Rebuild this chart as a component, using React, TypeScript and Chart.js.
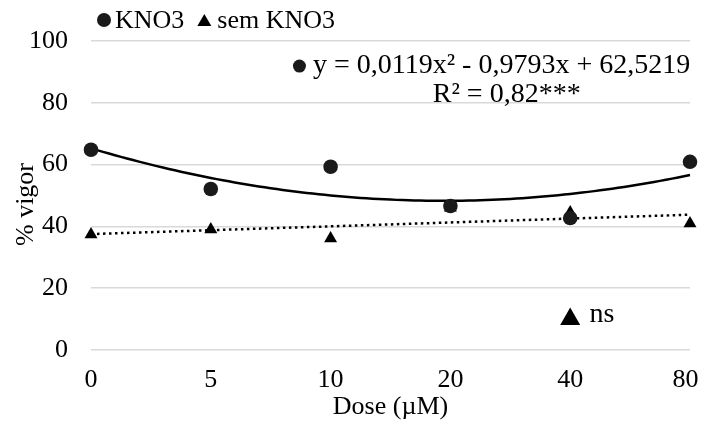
import React, { useEffect, useRef } from "react";
import { Chart, registerables } from "chart.js";

Chart.register(...registerables);

const doseLabels = ["0", "5", "10", "20", "40", "80"];
const seriesNames = ["KNO3", "sem KNO3"];
const kno3Values = [64.8, 52.1, 59.3, 46.6, 42.7, 60.9];
const semKno3Values = [37.4, 39.0, 36.1, 46.0, 44.5, 40.9];
const yTicks = [0, 20, 40, 60, 80, 100];
const xTitle = "Dose (\u00B5M)";
const yTitle = "% vigor";
const equationText = "y = 0,0119x\u00B2 - 0,9793x + 62,5219";
const r2Text = "R\u00B2 = 0,82***";
const nsText = "ns";

const FONT = "'Liberation Serif', 'Times New Roman', serif";
const FS = 26;

// least-squares polynomial fit over category positions (like a spreadsheet trendline)
function polyFit(ys: number[], degree: number): number[] {
  const n = degree + 1;
  const A: number[][] = [];
  for (let r = 0; r < n; r++) {
    A.push(new Array(n + 1).fill(0));
  }
  ys.forEach((y, i) => {
    const x = i + 1;
    for (let r = 0; r < n; r++) {
      for (let c = 0; c < n; c++) A[r][c] += Math.pow(x, r + c);
      A[r][n] += y * Math.pow(x, r);
    }
  });
  for (let p = 0; p < n; p++) {
    let max = p;
    for (let r = p + 1; r < n; r++) if (Math.abs(A[r][p]) > Math.abs(A[max][p])) max = r;
    [A[p], A[max]] = [A[max], A[p]];
    for (let r = 0; r < n; r++) {
      if (r === p) continue;
      const f = A[r][p] / A[p][p];
      for (let c = p; c <= n; c++) A[r][c] -= f * A[p][c];
    }
  }
  return A.map((row, i) => row[n] / row[i]);
}

function trendPoints(coef: number[], count: number) {
  const pts: { x: number; y: number }[] = [];
  const steps = 100;
  for (let s = 0; s <= steps; s++) {
    const idx = ((count - 1) * s) / steps;
    const x = idx + 1;
    let y = 0;
    coef.forEach((c, k) => (y += c * Math.pow(x, k)));
    pts.push({ x: idx, y });
  }
  return pts;
}

function triangle(ctx: CanvasRenderingContext2D, cx: number, cy: number, w: number, h: number) {
  ctx.beginPath();
  ctx.moveTo(cx - w / 2, cy + h / 2);
  ctx.lineTo(cx + w / 2, cy + h / 2);
  ctx.lineTo(cx, cy - h / 2);
  ctx.closePath();
  ctx.fill();
}

const annotationPlugin = {
  id: "annot",
  afterDatasetsDraw(chart: any) {
    const { ctx, scales, chartArea } = chart;
    const xs = scales.x;
    const ys = scales.y;
    ctx.save();
    ctx.textBaseline = "middle";

    // legend
    ctx.font = `${FS}px ${FONT}`;
    const ly = 12;
    let lx = chartArea.left + 13;
    ctx.fillStyle = "#1a1a1a";
    ctx.beginPath();
    ctx.arc(lx, ly, 7, 0, Math.PI * 2);
    ctx.fill();
    ctx.fillStyle = "#000";
    ctx.textAlign = "left";
    ctx.fillText(seriesNames[0], lx + 11, ly + 1);
    lx = lx + 11 + ctx.measureText(seriesNames[0]).width + 20;
    triangle(ctx, lx, ly, 14, 12);
    ctx.fillText(seriesNames[1], lx + 13, ly + 1);

    // x tick labels (kept inside the canvas edge)
    ctx.textAlign = "center";
    doseLabels.forEach((lab, i) => {
      const w = ctx.measureText(lab).width;
      const px = Math.min(xs.getPixelForValue(i), chart.width - w / 2 - 0.5);
      ctx.fillText(lab, px, chartArea.bottom + 30);
    });

    // y axis title
    ctx.save();
    ctx.translate(18.5, (chartArea.top + chartArea.bottom) / 2 + 9);
    ctx.rotate(-Math.PI / 2);
    ctx.textAlign = "center";
    ctx.fillText(yTitle, 0, 0);
    ctx.restore();

    // equation marker
    const ex = xs.getPixelForValue(1.74);
    const ey = ys.getPixelForValue(91.9);
    ctx.fillStyle = "#1a1a1a";
    ctx.beginPath();
    ctx.arc(ex, ey, 6.5, 0, Math.PI * 2);
    ctx.fill();
    ctx.fillStyle = "#000";
    ctx.font = `28px ${FONT}`;
    ctx.textAlign = "left";
    ctx.fillText(equationText, ex + 13.5, ey);
    ctx.textAlign = "center";
    ctx.fillText(r2Text, xs.getPixelForValue(3.47), ys.getPixelForValue(82.5));
    // ns marker
    const nx = xs.getPixelForValue(4.0);
    const ny = ys.getPixelForValue(10.9);
    triangle(ctx, nx, ny, 20, 17.5);
    ctx.font = `28px ${FONT}`;
    ctx.textAlign = "left";
    ctx.fillText(nsText, nx + 19.3, ny - 2);
    ctx.restore();
  },
};

export default function App() {
  const ref = useRef<HTMLCanvasElement>(null);
  useEffect(() => {
    if (!ref.current) return;
    Chart.defaults.font.family = FONT;
    Chart.defaults.color = "#000";
    const quad = polyFit(kno3Values, 2);
    const lin = polyFit(semKno3Values, 1);
    const chart = new Chart(ref.current, {
      type: "scatter",
      data: {
        datasets: [
          {
            label: seriesNames[0],
            data: kno3Values.map((v, i) => ({ x: i, y: v })),
            pointStyle: "circle",
            pointRadius: 7.3,
            pointHoverRadius: 7.3,
            backgroundColor: "#1a1a1a",
            borderColor: "#1a1a1a",
            borderWidth: 0,
            showLine: false,
            clip: false,
          },
          {
            label: seriesNames[1],
            data: semKno3Values.map((v, i) => ({ x: i, y: v })),
            pointStyle: "triangle",
            pointRadius: 7.5,
            pointHoverRadius: 7.5,
            backgroundColor: "#000",
            borderColor: "#000",
            borderWidth: 0,
            showLine: false,
            clip: false,
          },
          {
            label: "trend1",
            data: trendPoints(quad, kno3Values.length),
            showLine: true,
            pointRadius: 0,
            borderColor: "#000",
            borderWidth: 2.5,
            backgroundColor: "#000",
            clip: false,
          },
          {
            label: "trend2",
            data: trendPoints(lin, semKno3Values.length),
            showLine: true,
            pointRadius: 0,
            borderColor: "#000",
            borderWidth: 2.5,
            borderDash: [2.5, 3.5],
            backgroundColor: "#000",
            clip: false,
          },
        ],
      },
      options: {
        animation: false,
        responsive: false,
        maintainAspectRatio: false,
        devicePixelRatio: 1,
        layout: { autoPadding: false, padding: { left: 0, right: 9, top: 33, bottom: 0 } },
        plugins: {
          tooltip: { enabled: false },
          legend: { display: false },
        },
        scales: {
          x: {
            type: "linear",
            min: 0,
            max: 5,
            grid: { display: false, drawTicks: false },
            border: { display: false },
            afterBuildTicks: (scale: any) => {
              scale.ticks = doseLabels.map((_, i) => ({ value: i }));
            },
            afterFit: (scale: any) => {
              scale.height = 73;
              scale.paddingLeft = 0;
              scale.paddingRight = 0;
            },
            ticks: { display: false },
            title: {
              display: true,
              text: xTitle,
              font: { size: FS, family: FONT, lineHeight: 1.2 },
              color: "#000",
              padding: { top: 0, bottom: 0 },
            },
          },
          y: {
            min: 0,
            max: 100,
            afterBuildTicks: (scale: any) => {
              scale.ticks = yTicks.map((v) => ({ value: v }));
            },
            grid: { color: "#d9d9d9", lineWidth: 1.5, drawTicks: false },
            border: { display: false },
            ticks: { padding: 23, font: { size: FS, family: FONT }, color: "#000" },
            afterFit: (scale: any) => {
              scale.width = 83;
              scale.paddingTop = 0;
              scale.paddingBottom = 0;
            },
            title: { display: false },
          },
        },
      },
      plugins: [annotationPlugin],
    });
    return () => chart.destroy();
  }, []);
  return (
    <div style={{ width: 691, height: 415 }}>
      <canvas ref={ref} width={691} height={415} style={{ display: "block", width: 691, height: 415 }} />
    </div>
  );
}
